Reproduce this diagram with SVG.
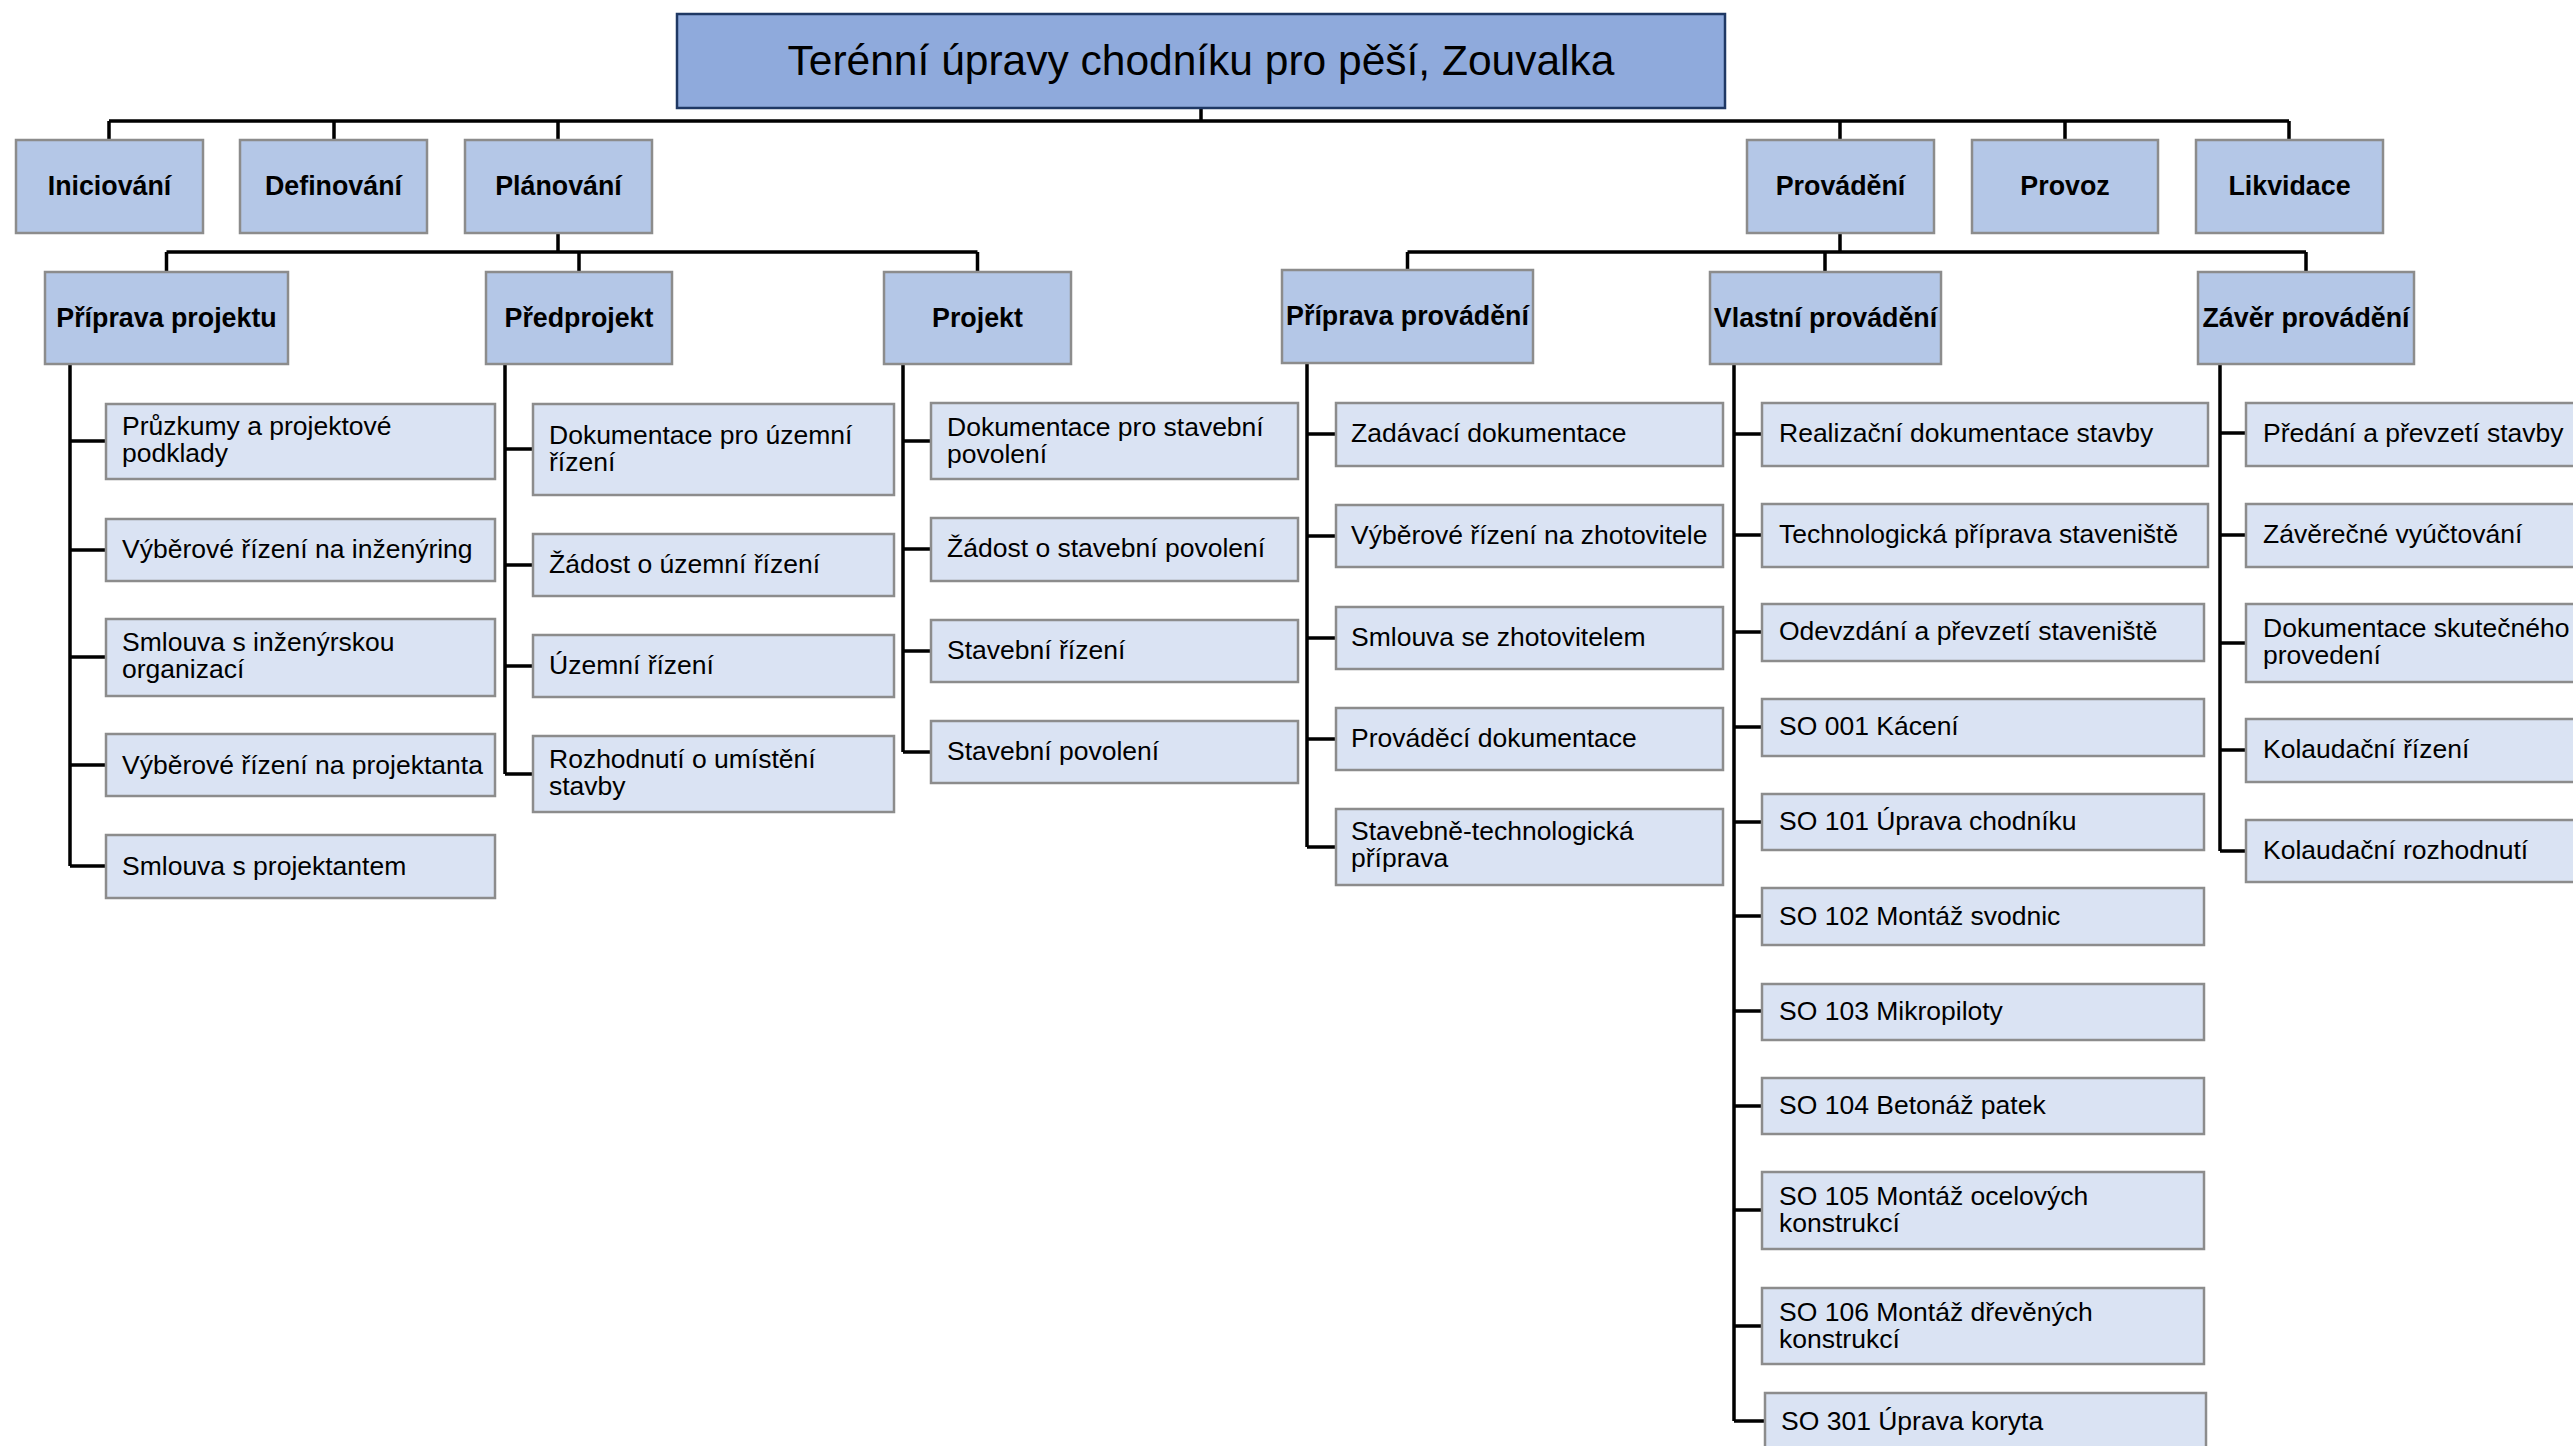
<svg xmlns="http://www.w3.org/2000/svg" width="2573" height="1446" viewBox="0 0 2573 1446">
<style>
text{font-family:"Liberation Sans",Arial,sans-serif;fill:#000}
.title{fill:#8FAADC;stroke:#1F3864;stroke-width:2.5}
.b1{fill:#B4C7E7;stroke:#8C8C8C;stroke-width:2.5}
.b3{fill:#DAE3F3;stroke:#8C8C8C;stroke-width:2.5}
.tt{font-size:42.5px;text-anchor:middle}
.h{font-size:26.8px;font-weight:bold;text-anchor:middle}
.n{font-size:26.5px}
.c{fill:none;stroke:#000;stroke-width:3.5}
</style>
<rect width="2573" height="1446" fill="#fff"/>
<g id="connectors">
<path class="c" d="M1201 108V121M109 121H2289M109 121V140M334 121V140M558 121V140M1840 121V140M2065 121V140M2289 121V140"/>
<path class="c" d="M558 233V252M166.5 252H977.5M166.5 252V272M579 252V272M977.5 252V272"/>
<path class="c" d="M1840 233V252M1407.5 252H2306M1407.5 252V270M1825 252V272M2306 252V272"/>
<path class="c" d="M70 364V866M70 441H106M70 550H106M70 657H106M70 765H106M70 866H106"/>
<path class="c" d="M505 364V774M505 449H533M505 565H533M505 666H533M505 774H533"/>
<path class="c" d="M903 364V752M903 441H931M903 549H931M903 651H931M903 752H931"/>
<path class="c" d="M1307 363V847M1307 434H1336M1307 536H1336M1307 638H1336M1307 739H1336M1307 847H1336"/>
<path class="c" d="M1734 364V1421M1734 434H1762M1734 535H1762M1734 632H1762M1734 727H1762M1734 822H1762M1734 916H1762M1734 1011H1762M1734 1106H1762M1734 1210H1762M1734 1326H1762M1734 1421H1765"/>
<path class="c" d="M2220 364V851M2220 433H2246M2220 535H2246M2220 643H2246M2220 750H2246M2220 851H2246"/>
</g>
<g id="root"><rect class="title" x="677" y="14" width="1048" height="94"/><text class="tt" x="1201" y="75">Terénní úpravy chodníku pro pěší, Zouvalka</text></g>
<g id="iniciovani"><rect class="b1" x="16" y="140" width="187" height="93"/><text class="h" x="109.5" y="195">Iniciování</text></g>
<g id="definovani"><rect class="b1" x="240" y="140" width="187" height="93"/><text class="h" x="333.5" y="195">Definování</text></g>
<g id="planovani"><rect class="b1" x="465" y="140" width="187" height="93"/><text class="h" x="558.5" y="195">Plánování</text></g>
<g id="provadeni"><rect class="b1" x="1747" y="140" width="187" height="93"/><text class="h" x="1840.5" y="195">Provádění</text></g>
<g id="provoz"><rect class="b1" x="1972" y="140" width="186" height="93"/><text class="h" x="2065" y="195">Provoz</text></g>
<g id="likvidace"><rect class="b1" x="2196" y="140" width="187" height="93"/><text class="h" x="2289.5" y="195">Likvidace</text></g>
<g id="priprava-projektu"><rect class="b1" x="45" y="272" width="243" height="92"/><text class="h" x="166.5" y="327">Příprava projektu</text></g>
<g id="predprojekt"><rect class="b1" x="486" y="272" width="186" height="92"/><text class="h" x="579" y="327">Předprojekt</text></g>
<g id="projekt"><rect class="b1" x="884" y="272" width="187" height="92"/><text class="h" x="977.5" y="327">Projekt</text></g>
<g id="priprava-provadeni"><rect class="b1" x="1282" y="270" width="251" height="93"/><text class="h" x="1407.5" y="325">Příprava provádění</text></g>
<g id="vlastni-provadeni"><rect class="b1" x="1710" y="272" width="231" height="92"/><text class="h" x="1825.5" y="327">Vlastní provádění</text></g>
<g id="zaver-provadeni"><rect class="b1" x="2198" y="272" width="216" height="92"/><text class="h" x="2306" y="327">Závěr provádění</text></g>
<g id="pp1"><rect class="b3" x="106" y="404" width="389" height="75"/><text class="n" x="122" y="435">Průzkumy a projektové</text><text class="n" x="122" y="462">podklady</text></g>
<g id="pp2"><rect class="b3" x="106" y="519" width="389" height="62"/><text class="n" x="122" y="558">Výběrové řízení na inženýring</text></g>
<g id="pp3"><rect class="b3" x="106" y="619" width="389" height="77"/><text class="n" x="122" y="651">Smlouva s inženýrskou</text><text class="n" x="122" y="678">organizací</text></g>
<g id="pp4"><rect class="b3" x="106" y="734" width="389" height="62"/><text class="n" x="122" y="774">Výběrové řízení na projektanta</text></g>
<g id="pp5"><rect class="b3" x="106" y="835" width="389" height="63"/><text class="n" x="122" y="875">Smlouva s projektantem</text></g>
<g id="pr1"><rect class="b3" x="533" y="404" width="361" height="91"/><text class="n" x="549" y="444">Dokumentace pro územní</text><text class="n" x="549" y="471">řízení</text></g>
<g id="pr2"><rect class="b3" x="533" y="534" width="361" height="62"/><text class="n" x="549" y="573">Žádost o územní řízení</text></g>
<g id="pr3"><rect class="b3" x="533" y="635" width="361" height="62"/><text class="n" x="549" y="674">Územní řízení</text></g>
<g id="pr4"><rect class="b3" x="533" y="736" width="361" height="76"/><text class="n" x="549" y="768">Rozhodnutí o umístění</text><text class="n" x="549" y="795">stavby</text></g>
<g id="pj1"><rect class="b3" x="931" y="403" width="367" height="76"/><text class="n" x="947" y="436">Dokumentace pro stavební</text><text class="n" x="947" y="463">povolení</text></g>
<g id="pj2"><rect class="b3" x="931" y="518" width="367" height="63"/><text class="n" x="947" y="557">Žádost o stavební povolení</text></g>
<g id="pj3"><rect class="b3" x="931" y="620" width="367" height="62"/><text class="n" x="947" y="659">Stavební řízení</text></g>
<g id="pj4"><rect class="b3" x="931" y="721" width="367" height="62"/><text class="n" x="947" y="760">Stavební povolení</text></g>
<g id="ppr1"><rect class="b3" x="1336" y="403" width="387" height="63"/><text class="n" x="1351" y="442">Zadávací dokumentace</text></g>
<g id="ppr2"><rect class="b3" x="1336" y="505" width="387" height="62"/><text class="n" x="1351" y="544">Výběrové řízení na zhotovitele</text></g>
<g id="ppr3"><rect class="b3" x="1336" y="607" width="387" height="62"/><text class="n" x="1351" y="646">Smlouva se zhotovitelem</text></g>
<g id="ppr4"><rect class="b3" x="1336" y="708" width="387" height="62"/><text class="n" x="1351" y="747">Prováděcí dokumentace</text></g>
<g id="ppr5"><rect class="b3" x="1336" y="809" width="387" height="76"/><text class="n" x="1351" y="840">Stavebně-technologická</text><text class="n" x="1351" y="867">příprava</text></g>
<g id="vp1"><rect class="b3" x="1762" y="403" width="446" height="63"/><text class="n" x="1779" y="442">Realizační dokumentace stavby</text></g>
<g id="vp2"><rect class="b3" x="1762" y="504" width="446" height="63"/><text class="n" x="1779" y="543">Technologická příprava staveniště</text></g>
<g id="vp3"><rect class="b3" x="1762" y="604" width="442" height="57"/><text class="n" x="1779" y="640">Odevzdání a převzetí staveniště</text></g>
<g id="vp4"><rect class="b3" x="1762" y="699" width="442" height="57"/><text class="n" x="1779" y="735">SO 001 Kácení</text></g>
<g id="vp5"><rect class="b3" x="1762" y="794" width="442" height="56"/><text class="n" x="1779" y="830">SO 101 Úprava chodníku</text></g>
<g id="vp6"><rect class="b3" x="1762" y="888" width="442" height="57"/><text class="n" x="1779" y="925">SO 102 Montáž svodnic</text></g>
<g id="vp7"><rect class="b3" x="1762" y="984" width="442" height="56"/><text class="n" x="1779" y="1020">SO 103 Mikropiloty</text></g>
<g id="vp8"><rect class="b3" x="1762" y="1078" width="442" height="56"/><text class="n" x="1779" y="1114">SO 104 Betonáž patek</text></g>
<g id="vp9"><rect class="b3" x="1762" y="1172" width="442" height="77"/><text class="n" x="1779" y="1205">SO 105 Montáž ocelových</text><text class="n" x="1779" y="1232">konstrukcí</text></g>
<g id="vp10"><rect class="b3" x="1762" y="1288" width="442" height="76"/><text class="n" x="1779" y="1321">SO 106 Montáž dřevěných</text><text class="n" x="1779" y="1348">konstrukcí</text></g>
<g id="vp11"><rect class="b3" x="1765" y="1393" width="441" height="60"/><text class="n" x="1781" y="1430">SO 301 Úprava koryta</text></g>
<g id="zp1"><rect class="b3" x="2246" y="403" width="420" height="63"/><text class="n" x="2263" y="442">Předání a převzetí stavby</text></g>
<g id="zp2"><rect class="b3" x="2246" y="504" width="420" height="63"/><text class="n" x="2263" y="543">Závěrečné vyúčtování</text></g>
<g id="zp3"><rect class="b3" x="2246" y="604" width="420" height="78"/><text class="n" x="2263" y="637">Dokumentace skutečného</text><text class="n" x="2263" y="664">provedení</text></g>
<g id="zp4"><rect class="b3" x="2246" y="719" width="420" height="63"/><text class="n" x="2263" y="758">Kolaudační řízení</text></g>
<g id="zp5"><rect class="b3" x="2246" y="820" width="420" height="62"/><text class="n" x="2263" y="859">Kolaudační rozhodnutí</text></g>
</svg>
